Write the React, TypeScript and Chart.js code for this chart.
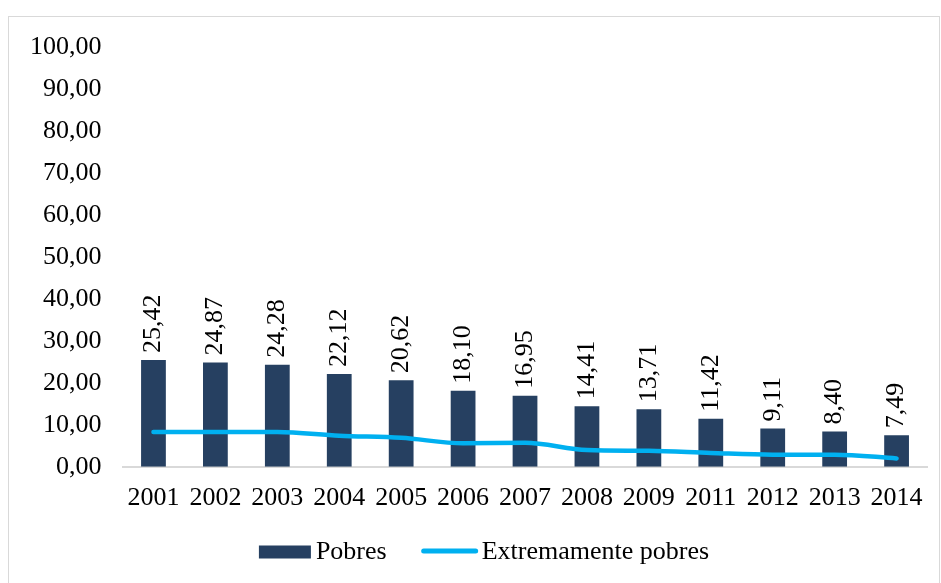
import React, { useEffect, useRef } from "react";
import { Chart, registerables } from "chart.js";

Chart.register(...registerables);

const years = ["2001", "2002", "2003", "2004", "2005", "2006", "2007", "2008", "2009", "2011", "2012", "2013", "2014"];
const pobres = [25.42, 24.87, 24.28, 22.12, 20.62, 18.1, 16.95, 14.41, 13.71, 11.42, 9.11, 8.4, 7.49];
const extremos = [8.3, 8.3, 8.3, 7.4, 6.9, 5.6, 5.7, 4.0, 3.8, 3.3, 2.9, 2.9, 2.0];
const seriesNames = ["Pobres", "Extremamente pobres"];

const FONT = "'Liberation Serif', 'Times New Roman', serif";
const FS = 26;
const BAR_COLOR = "#264061";
const LINE_COLOR = "#00B0F0";
const fmt = (v: number) => v.toFixed(2).replace(".", ",");

const labelPlugin = {
  id: "barLabels",
  afterDatasetsDraw(chart: any) {
    const meta = chart.getDatasetMeta(0);
    const ctx = chart.ctx;
    ctx.save();
    ctx.font = `${FS}px ${FONT}`;
    ctx.fillStyle = "#000";
    ctx.textAlign = "left";
    ctx.textBaseline = "middle";
    meta.data.forEach((bar: any, i: number) => {
      ctx.save();
      ctx.translate(bar.x, bar.y - 7);
      ctx.rotate(-Math.PI / 2);
      ctx.fillText(fmt(pobres[i]), 0, 0);
      ctx.restore();
    });
    ctx.restore();
  },
};

const legendPlugin = {
  id: "customLegend",
  afterDraw(chart: any) {
    const ctx = chart.ctx;
    ctx.save();
    ctx.font = `${FS}px ${FONT}`;
    ctx.textBaseline = "middle";
    ctx.textAlign = "left";
    const w1 = ctx.measureText(seriesNames[0]).width;
    const w2 = ctx.measureText(seriesNames[1]).width;
    const total = 52 + 5 + w1 + 35 + 56 + 4 + w2;
    const cy = chart.height - 31;
    let x = chart.width / 2 + 10 - total / 2;
    ctx.fillStyle = BAR_COLOR;
    ctx.fillRect(x, cy - 6.5, 52, 13);
    x += 57;
    ctx.fillStyle = "#000";
    ctx.fillText(seriesNames[0], x, cy);
    x += w1 + 35;
    ctx.strokeStyle = LINE_COLOR;
    ctx.lineWidth = 5;
    ctx.lineCap = "round";
    ctx.beginPath();
    ctx.moveTo(x + 2, cy - 1);
    ctx.lineTo(x + 54, cy - 1);
    ctx.stroke();
    x += 60;
    ctx.fillText(seriesNames[1], x, cy);
    ctx.restore();
  },
};

export default function App() {
  const ref = useRef<HTMLCanvasElement>(null);
  useEffect(() => {
    if (!ref.current) return;
    const chart = new Chart(ref.current, {
      type: "bar",
      data: {
        labels: years,
        datasets: [
          {
            type: "bar",
            label: seriesNames[0],
            data: pobres,
            backgroundColor: BAR_COLOR,
            borderWidth: 0,
            categoryPercentage: 0.8,
            barPercentage: 0.5,
            order: 2,
          },
          {
            type: "line",
            label: seriesNames[1],
            data: extremos,
            borderColor: LINE_COLOR,
            backgroundColor: LINE_COLOR,
            borderWidth: 4.5,
            borderCapStyle: "round",
            pointRadius: 0,
            cubicInterpolationMode: "monotone",
            order: 1,
          } as any,
        ],
      },
      options: {
        animation: false,
        responsive: false,
        maintainAspectRatio: false,
        layout: { padding: { left: 0, right: 11, top: 30, bottom: 53 } },
        scales: {
          x: {
            grid: { display: false, drawTicks: false, tickLength: 0 },
            border: { display: true, color: "#d9d9d9", width: 2 },
            ticks: { color: "#000", font: { family: FONT, size: FS }, padding: 16, maxRotation: 0 },
          },
          y: {
            min: 0,
            max: 100,
            grid: { display: false, drawTicks: false, tickLength: 0 },
            border: { display: false },
            afterFit: (scale: any) => {
              scale.paddingTop = 0;
              scale.paddingBottom = 0;
            },
            ticks: {
              stepSize: 10,
              color: "#000",
              font: { family: FONT, size: FS },
              padding: 21,
              callback: (v: any) => fmt(Number(v)),
            },
          },
        },
        plugins: {
          legend: { display: false },
          tooltip: { enabled: false },
        },
      },
      plugins: [labelPlugin, legendPlugin],
    });
    return () => chart.destroy();
  }, []);
  return (
    <div style={{ position: "absolute", left: 8, top: 16, width: 930, height: 566, border: "1px solid #d9d9d9", background: "#fff" }}>
      <canvas ref={ref} width={930} height={566} style={{ display: "block" }} />
    </div>
  );
}
